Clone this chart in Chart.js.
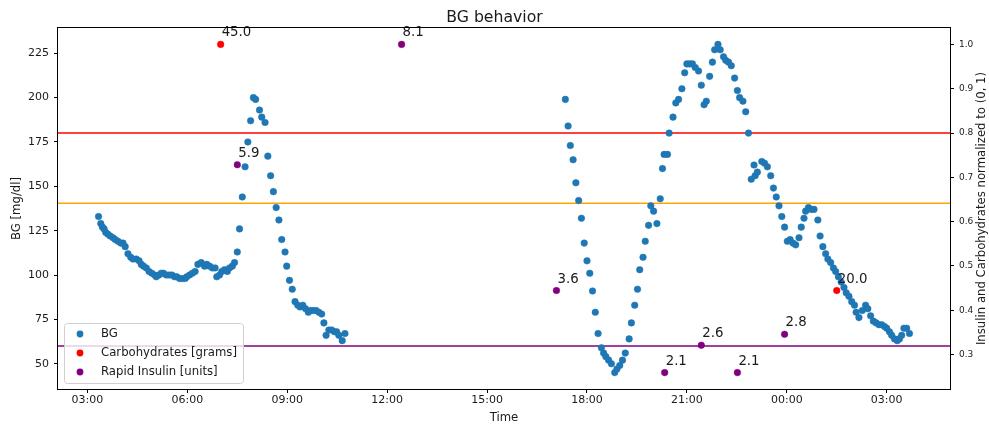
<!DOCTYPE html>
<html>
<head>
<meta charset="utf-8">
<script src="https://cdn.jsdelivr.net/npm/chart.js@4.4.0/dist/chart.umd.min.js"></script>
<style>
  body { margin: 0; background: #fff; }
</style>
</head>
<body>
<canvas id="bgChart" width="989" height="427"></canvas>
<script>
// CGM readings, two days (times roll over past midnight)
const bgTimes = [
  '03:20','03:24','03:27','03:30','03:33','03:37','03:41','03:46','03:50','03:55',
  '04:00','04:04','04:08','04:13','04:18','04:22','04:28','04:33','04:37','04:41',
  '04:46','04:51','04:56','05:01','05:04','05:09','05:13','05:17','05:22','05:27',
  '05:32','05:37','05:41','05:46','05:51','05:56','05:59','06:04','06:09','06:14',
  '06:19','06:25','06:31','06:35','06:40','06:45','06:50','06:53','06:58','07:02',
  '07:07','07:12','07:16','07:21','07:25','07:30','07:34','07:39','07:44','07:49',
  '07:54','07:59','08:03','08:10','08:14','08:20','08:25','08:30','08:35','08:40',
  '08:45','08:50','08:56','08:59','09:04','09:09','09:14','09:19','09:23','09:28',
  '09:33','09:38','09:42','09:47','09:52','09:57','10:02','10:06','10:10','10:15',
  '10:20','10:25','10:29','10:33','10:39','10:44',
  '17:21','17:26','17:30','17:35','17:40','17:45','17:50','17:55','18:00','18:05',
  '18:10','18:15','18:20','18:26','18:30','18:34','18:39','18:44','18:50','18:54',
  '18:59','19:04','19:09','19:16','19:20','19:26','19:31','19:35','19:41','19:45',
  '19:51','19:55','20:00','20:06','20:12','20:16','20:19','20:25','20:28','20:35',
  '20:40','20:45','20:51','20:56','21:00','21:05','21:10','21:15','21:21','21:26',
  '21:31','21:35','21:41','21:46','21:50','21:56','22:00','22:06','22:10','22:15',
  '22:20','22:26','22:31','22:35','22:41','22:46','22:51','22:56','23:01','23:03',
  '23:07','23:15','23:20','23:25','23:31','23:36','23:41','23:46','23:51','23:56',
  '00:01','00:06','00:11','00:16','00:22','00:26','00:31','00:34','00:39','00:44',
  '00:49','00:56','01:00','01:05','01:10','01:14','01:19','01:24','01:28','01:33',
  '01:38','01:43','01:47','01:52','01:57','02:02','02:05','02:10','02:16','02:22',
  '02:26','02:31','02:36','02:41','02:46','02:51','02:56','03:00','03:05','03:09',
  '03:14','03:19','03:23','03:27','03:31','03:36','03:41'
];
const bgValues = [
  133, 129, 127, 126, 124, 123, 122, 121, 120, 119,
  118, 118, 116, 112, 110, 109, 109, 108, 106, 105,
  104, 102, 101, 100, 99, 100, 101, 101, 100, 100,
  100, 99, 99, 98, 98, 98, 99, 100, 101, 102,
  106, 107, 105, 106, 105, 104, 104, 99, 100, 102,
  103, 102, 104, 105, 107, 113, 126, 144, 161, 175,
  187, 200, 199, 193, 189, 186, 167, 156, 147, 138,
  131, 120, 113, 105, 97, 92, 85, 83, 82, 83,
  81, 79, 80, 80, 80, 79, 78, 73, 66, 69,
  69, 68, 68, 66, 63, 67,
  199, 184, 173, 165, 152, 142, 132, 118, 108, 101,
  91, 79, 67, 59, 56, 54, 52, 50, 45, 47,
  49, 52, 56, 64, 73, 83, 92, 103, 110, 119,
  128, 139, 136, 129, 143, 160, 168, 168, 180, 189,
  197, 199, 205, 214, 219, 219, 219, 217, 215, 207,
  196, 198, 212, 220, 227, 230, 227, 223, 221, 220,
  218, 211, 204, 200, 198, 192, 180, 154, 162, 156,
  158, 164, 163, 161, 156, 149, 144, 139, 133, 127,
  119, 120, 118, 117, 121, 127, 132, 136, 138, 137,
  137, 131, 122, 116, 112, 109, 107, 104, 102, 99,
  96, 93, 90, 88, 85, 83, 79, 76, 80, 83,
  81, 77, 74, 73, 72, 72, 71, 70, 68, 66,
  64, 63, 64, 66, 70, 70, 67
];

const carbTimes = ['07:00', '01:30'];
const carbGrams = [45.0, 20.0];
const insulinTimes = ['07:30', '12:26', '17:05', '20:20', '21:26', '22:31', '23:56'];
const insulinUnits = [5.9, 8.1, 3.6, 2.1, 2.6, 2.1, 2.8];

// horizontal guide levels in mg/dl
const limitValues = [180, 140.4, 60];
const limitColors = ['#ff0000', '#ffa500', '#800080'];

const timeTicks = [3, 6, 9, 12, 15, 18, 21, 24, 27];
const bgTicks = [50, 75, 100, 125, 150, 175, 200, 225];
const normTicks = [0.3, 0.4, 0.5, 0.6, 0.7, 0.8, 0.9, 1.0];

const FONT = 'DejaVu Sans';
const INK = '#1a1a1a';
const BLUE = '#1f77b4';

function toHours(list) {
  let prev = -Infinity, day = 0;
  return list.map(t => {
    const [h, m] = t.split(':').map(Number);
    let v = h + m / 60 + day * 24;
    if (v < prev) { day++; v += 24; }
    prev = v;
    return v;
  });
}

function padRange(values) {
  const lo = Math.min(...values), hi = Math.max(...values);
  const m = (hi - lo) * 0.05;
  return [lo - m, hi + m];
}

function clock(v) {
  const total = Math.round(v * 60);
  const h = Math.floor(total / 60) % 24, m = total % 60;
  return String(h).padStart(2, '0') + ':' + String(m).padStart(2, '0');
}

const bgX = toHours(bgTimes);
const carbX = toHours(carbTimes);
const insulinX = toHours(insulinTimes);
const carbMax = Math.max(...carbGrams);
const insulinMax = Math.max(...insulinUnits);
const carbNorm = carbGrams.map(v => v / carbMax);
const insulinNorm = insulinUnits.map(v => v / insulinMax);

const xRange = padRange([...bgX, ...carbX, ...insulinX]);
const bgRange = padRange(bgValues);
const normRange = padRange([...carbNorm, ...insulinNorm]);

const points = (xs, ys) => xs.map((x, i) => ({ x, y: ys[i] }));

const decorations = {
  id: 'decorations',
  beforeDatasetsDraw(chart) {
    const { ctx, chartArea: a, scales } = chart;
    ctx.save();
    ctx.lineWidth = 1.5;
    limitValues.forEach((v, i) => {
      const y = scales.y.getPixelForValue(v);
      ctx.strokeStyle = limitColors[i];
      ctx.beginPath();
      ctx.moveTo(a.left, y);
      ctx.lineTo(a.right, y);
      ctx.stroke();
    });
    ctx.restore();
  },
  afterDatasetsDraw(chart) {
    const { ctx, chartArea: a } = chart;
    ctx.save();

    // amounts written next to carb / insulin markers
    ctx.font = `13.3px "${FONT}"`;
    ctx.fillStyle = INK;
    ctx.textAlign = 'left';
    ctx.textBaseline = 'alphabetic';
    [[1, carbGrams], [2, insulinUnits]].forEach(([idx, vals]) => {
      chart.getDatasetMeta(idx).data.forEach((el, j) => {
        ctx.fillText(vals[j].toFixed(1), el.x + 1, el.y - 8);
      });
    });

    // frame
    ctx.strokeStyle = '#000';
    ctx.lineWidth = 1;
    ctx.strokeRect(a.left - 0.5, a.top - 0.5, a.width + 1, a.height + 1);

    // right axis title, reading bottom to top
    ctx.save();
    ctx.translate(chart.width - 7, (a.top + a.bottom) / 2);
    ctx.rotate(-Math.PI / 2);
    ctx.font = `11.7px "${FONT}"`;
    ctx.textAlign = 'center';
    ctx.textBaseline = 'middle';
    ctx.fillText('Insulin and Carbohydrates normalized to (0, 1)', 0, 0);
    ctx.restore();

    // legend box, lower left
    const lx = a.left + 6, ly = a.bottom - 66, lw = 179, lh = 60;
    ctx.beginPath();
    ctx.roundRect(lx + 0.5, ly + 0.5, lw, lh, 3);
    ctx.fillStyle = 'rgba(255,255,255,0.8)';
    ctx.fill();
    ctx.strokeStyle = '#d0d0d0';
    ctx.stroke();
    ctx.font = `11.7px "${FONT}"`;
    ctx.textBaseline = 'middle';
    ctx.textAlign = 'left';
    chart.data.datasets.forEach((ds, i) => {
      const ry = ly + 11 + i * 19;
      ctx.fillStyle = ds.backgroundColor;
      ctx.beginPath();
      ctx.arc(lx + 16, ry, 3.4, 0, Math.PI * 2);
      ctx.fill();
      ctx.fillStyle = INK;
      ctx.fillText(ds.label, lx + 37, ry);
    });

    ctx.restore();
  }
};

const tickMarks = { display: true, drawOnChartArea: false, drawTicks: true, tickLength: 4, color: '#000' };

new Chart(document.getElementById('bgChart'), {
  type: 'scatter',
  data: {
    datasets: [
      {
        label: 'BG',
        data: points(bgX, bgValues),
        yAxisID: 'y',
        backgroundColor: BLUE,
        borderColor: BLUE,
        borderWidth: 0.5,
        pointRadius: 3.3,
        order: 3
      },
      {
        label: 'Carbohydrates [grams]',
        data: points(carbX, carbNorm),
        yAxisID: 'y1',
        backgroundColor: '#ff0000',
        borderColor: '#ff0000',
        borderWidth: 0.5,
        pointRadius: 3.3,
        order: 2
      },
      {
        label: 'Rapid Insulin [units]',
        data: points(insulinX, insulinNorm),
        yAxisID: 'y1',
        backgroundColor: '#800080',
        borderColor: '#800080',
        borderWidth: 0.5,
        pointRadius: 3.3,
        order: 1
      }
    ]
  },
  options: {
    responsive: false,
    animation: false,
    events: [],
    layout: { padding: 0 },
    plugins: {
      legend: { display: false },
      tooltip: { enabled: false },
      title: {
        display: true,
        text: 'BG behavior',
        color: INK,
        font: { family: FONT, size: 15.7, weight: 'normal' },
        padding: { top: 9, bottom: 0.16 }
      }
    },
    scales: {
      x: {
        type: 'linear',
        min: xRange[0],
        max: xRange[1],
        afterBuildTicks: s => { s.ticks = timeTicks.map(v => ({ value: v })); },
        afterFit: s => { s.height = 38; },
        grid: tickMarks,
        border: { display: false },
        ticks: {
          color: INK, padding: 1, maxRotation: 0, autoSkip: false,
          font: { family: FONT, size: 11 },
          callback: v => clock(v)
        },
        title: {
          display: true, text: 'Time', color: INK,
          font: { family: FONT, size: 11.7 },
          padding: { top: 0, bottom: 2 }
        }
      },
      y: {
        type: 'linear',
        position: 'left',
        min: bgRange[0],
        max: bgRange[1],
        afterBuildTicks: s => { s.ticks = bgTicks.map(v => ({ value: v })); },
        afterFit: s => { s.width = 58; },
        grid: tickMarks,
        border: { display: false },
        ticks: {
          color: INK, padding: 5, autoSkip: false,
          font: { family: FONT, size: 11 }
        },
        title: {
          display: true, text: 'BG [mg/dl]', color: INK,
          font: { family: FONT, size: 11.7 },
          padding: { top: 10, bottom: 0 }
        }
      },
      y1: {
        type: 'linear',
        position: 'right',
        min: normRange[0],
        max: normRange[1],
        afterBuildTicks: s => { s.ticks = normTicks.map(v => ({ value: v })); },
        afterFit: s => { s.width = 39; },
        grid: tickMarks,
        border: { display: false },
        ticks: {
          color: INK, padding: 5, autoSkip: false,
          font: { family: FONT, size: 9 },
          callback: v => v.toFixed(1)
        }
      }
    }
  },
  plugins: [decorations]
});
</script>
</body>
</html>
